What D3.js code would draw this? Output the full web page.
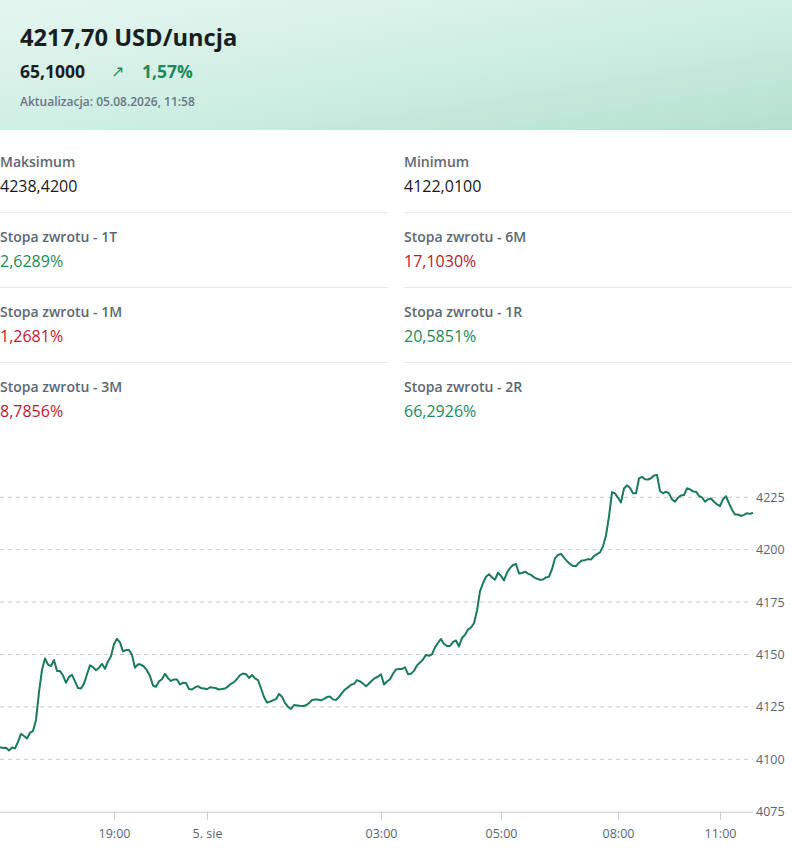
<!DOCTYPE html>
<html lang="pl">
<head>
<meta charset="utf-8">
<script src="https://cdn.jsdelivr.net/npm/d3@7"></script>
<style>
  html, body { margin: 0; padding: 0; background: #fff; }
  body { width: 792px; height: 865px; position: relative; overflow: hidden; font-family: "Open Sans", sans-serif; }
  #head { position: absolute; left: 0; top: 0; width: 792px; height: 130px;
    background: linear-gradient(to bottom right, #e5f6f0 0%, #cdeee3 55%, #b4e0cf 100%); }
  #title { position: absolute; left: 20px; top: 19px; font-size: 23.7px; font-weight: 700; color: #1b1e21; line-height: 36px; }
  #change { position: absolute; left: 20px; top: 59px; font-size: 17.5px; font-weight: 700; color: #1b1e21; line-height: 24px; white-space: nowrap; }
  #change .arrow { position: absolute; left: 91px; top: 0; color: #1d8a5b; font-weight: 400; font-size: 16px; }
  #change .pct { position: absolute; left: 122px; top: 0; color: #1d8a5b; }
  #upd { position: absolute; left: 20px; top: 94px; font-size: 12px; font-weight: 600; color: #6b7580; line-height: 16px; }
  .stat { position: absolute; width: 388px; }
  .stat .lab { font-size: 14px; font-weight: 600; color: #5d6771; line-height: 24px; height: 24px; }
  .stat .val { font-size: 16px; font-weight: 400; color: #16191c; line-height: 24px; height: 24px; }
  .stat .sep { position: absolute; left: 0; top: 62px; width: 388px; height: 1px; background: #e6e8ea; }
  #chart { position: absolute; left: 0; top: 440px; }
</style>
</head>
<body>
<div id="head">
  <div id="title"></div>
  <div id="change"></div>
  <div id="upd"></div>
</div>
<div id="stats"></div>
<svg id="chart" width="792" height="425"></svg>
<script>
// nagłówek
const lastPrice = "4217,70 USD/uncja";
const lastChange = "65,1000";
const lastChangePct = "1,57%";
const updated = "Aktualizacja: 05.08.2026, 11:58";

// statystyki (lewa kolumna, potem prawa)
const statLabels = ["Maksimum", "Minimum", "Stopa zwrotu - 1T", "Stopa zwrotu - 6M",
  "Stopa zwrotu - 1M", "Stopa zwrotu - 1R", "Stopa zwrotu - 3M", "Stopa zwrotu - 2R"];
const statValues = ["4238,4200", "4122,0100", "2,6289%", "17,1030%",
  "1,2681%", "20,5851%", "8,7856%", "66,2926%"];
const statTone = ["none", "none", "up", "down", "down", "up", "down", "up"];

// notowania (kolejne punkty wykresu)
const prices = [
  4105.7,4105.4,4105.5,4104.2,4105.6,4105.2,4108.3,4112.1,4111.1,4109.9,
  4112.7,4113.5,4118.8,4132.1,4142.7,4148.1,4145.2,4144.5,4147.4,4142.1,
  4142.1,4140.0,4136.5,4139.3,4140.3,4137.2,4134.0,4133.8,4136.1,4140.6,
  4144.8,4144.0,4142.5,4143.7,4145.5,4143.2,4146.7,4149.2,4155.0,4157.5,
  4155.8,4151.5,4152.1,4152.2,4149.8,4143.7,4145.3,4145.2,4144.2,4142.4,
  4139.7,4135.2,4134.6,4137.2,4138.2,4140.8,4138.7,4137.4,4138.1,4138.1,
  4135.7,4136.5,4136.4,4133.5,4133.3,4134.3,4134.9,4134.0,4133.8,4133.4,
  4134.4,4134.2,4133.9,4133.3,4133.5,4133.8,4134.8,4136.0,4136.8,4138.3,
  4140.2,4140.9,4140.6,4138.8,4140.2,4138.6,4137.8,4133.9,4129.7,4127.1,
  4127.5,4128.1,4128.7,4131.2,4129.8,4126.9,4125.0,4124.0,4125.9,4125.7,
  4125.5,4125.4,4125.8,4126.8,4128.3,4128.5,4128.5,4128.1,4128.8,4129.7,
  4130.0,4128.6,4128.3,4129.7,4131.7,4133.3,4134.3,4135.6,4136.0,4137.8,
  4137.2,4136.1,4134.8,4136.2,4137.6,4138.8,4139.4,4140.6,4135.7,4137.1,
  4138.2,4140.8,4142.9,4143.1,4143.1,4143.9,4140.6,4140.8,4142.2,4144.8,
  4146.2,4147.6,4149.8,4149.4,4150.1,4153.4,4155.6,4157.4,4155.0,4154.1,
  4154.1,4155.9,4156.7,4153.8,4157.9,4159.4,4161.9,4162.9,4164.9,4171.0,
  4180.1,4184.0,4187.1,4188.3,4186.8,4185.7,4189.0,4187.5,4185.3,4189.1,
  4191.2,4192.7,4193.2,4188.7,4188.9,4189.5,4188.6,4188.0,4186.8,4186.1,
  4185.7,4185.8,4186.8,4187.1,4190.7,4195.9,4197.5,4198.0,4196.2,4194.5,
  4193.2,4192.2,4192.2,4193.8,4194.9,4195.0,4195.5,4195.3,4197.0,4197.9,
  4198.7,4201.6,4206.8,4215.9,4227.5,4226.9,4224.8,4222.6,4229.2,4230.7,
  4229.4,4226.9,4226.9,4234.0,4234.8,4233.6,4233.5,4234.1,4235.4,4235.7,
  4228.0,4226.9,4227.7,4226.9,4224.0,4222.9,4224.8,4225.9,4226.1,4229.3,
  4228.8,4227.8,4227.7,4225.6,4225.0,4222.9,4224.0,4224.4,4222.9,4221.6,
  4220.8,4224.1,4225.5,4222.1,4219.1,4216.8,4216.8,4216.1,4216.6,4217.4,
  4217.1,4217.6
];

// oś czasu: numer punktu, przy którym stoi etykieta
const timeTickIndex = [38, 69, 127, 167, 206, 240];
const timeTickLabels = ["19:00", "5. sie", "03:00", "05:00", "08:00", "11:00"];
const priceTicks = [4075, 4100, 4125, 4150, 4175, 4200, 4225];

const upColor = "#1d8a5b";
const downColor = "#be1831";
const lineColor = "#1b7b57";

d3.select("#title").text(lastPrice);
const ch = d3.select("#change");
ch.append("span").text(lastChange);
ch.append("span").attr("class", "arrow").text("\u2197");
ch.append("span").attr("class", "pct").text(lastChangePct);
d3.select("#upd").text(updated);

const stats = d3.select("#stats").selectAll(".stat")
  .data(statLabels.map((l, i) => ({ label: l, value: statValues[i], tone: statTone[i], i })))
  .enter().append("div")
  .attr("class", "stat")
  .style("left", d => (d.i % 2 === 0 ? 0 : 404) + "px")
  .style("top", d => (150 + Math.floor(d.i / 2) * 75) + "px");

stats.append("div").attr("class", "lab").text(d => d.label);
stats.append("div").attr("class", "val")
  .style("color", d => d.tone === "up" ? upColor : d.tone === "down" ? downColor : null)
  .text(d => d.value);
stats.filter(d => d.i < 6).append("div").attr("class", "sep");

// wykres
const svg = d3.select("#chart");
const plotRight = 753;

const x = d3.scaleLinear()
  .domain([0, prices.length - 1])
  .range([0, plotRight]);

const y = d3.scaleLinear()
  .domain([4075, 4225])
  .range([371.7, 57.3]);

// siatka
svg.append("g")
  .selectAll("line")
  .data(priceTicks.filter(t => t > 4075))
  .enter().append("line")
  .attr("x1", 0)
  .attr("x2", plotRight)
  .attr("y1", d => y(d))
  .attr("y2", d => y(d))
  .attr("stroke", "#c9c9c9")
  .attr("stroke-width", 1)
  .attr("stroke-dasharray", "4,4");

// oś Y po prawej
const yAxis = svg.append("g")
  .attr("transform", `translate(${plotRight},0)`)
  .call(d3.axisRight(y).tickValues(priceTicks).tickSize(0).tickPadding(3).tickFormat(d3.format("d")));
yAxis.select(".domain").remove();
yAxis.selectAll("text")
  .attr("fill", "#5b6570")
  .style("font-family", "Open Sans")
  .style("font-size", "12.5px");

// oś X
const xAxis = svg.append("g")
  .attr("transform", `translate(0,${y(4075)})`)
  .call(d3.axisBottom(x).tickValues(timeTickIndex).tickSize(8).tickPadding(9)
    .tickFormat((d, i) => timeTickLabels[i]));
xAxis.select(".domain").attr("d", `M0,0.5H${plotRight}`).attr("stroke", "#cccccc");
xAxis.selectAll(".tick line").attr("stroke", "#cccccc");
xAxis.selectAll("text")
  .attr("fill", "#5b6570")
  .style("font-family", "Open Sans")
  .style("font-size", "12.5px");

// linia notowań
const line = d3.line()
  .x((d, i) => x(i))
  .y(d => y(d));

svg.append("path")
  .datum(prices)
  .attr("d", line)
  .attr("fill", "none")
  .attr("stroke", lineColor)
  .attr("stroke-width", 2)
  .attr("stroke-linejoin", "round");
</script>
</body>
</html>
